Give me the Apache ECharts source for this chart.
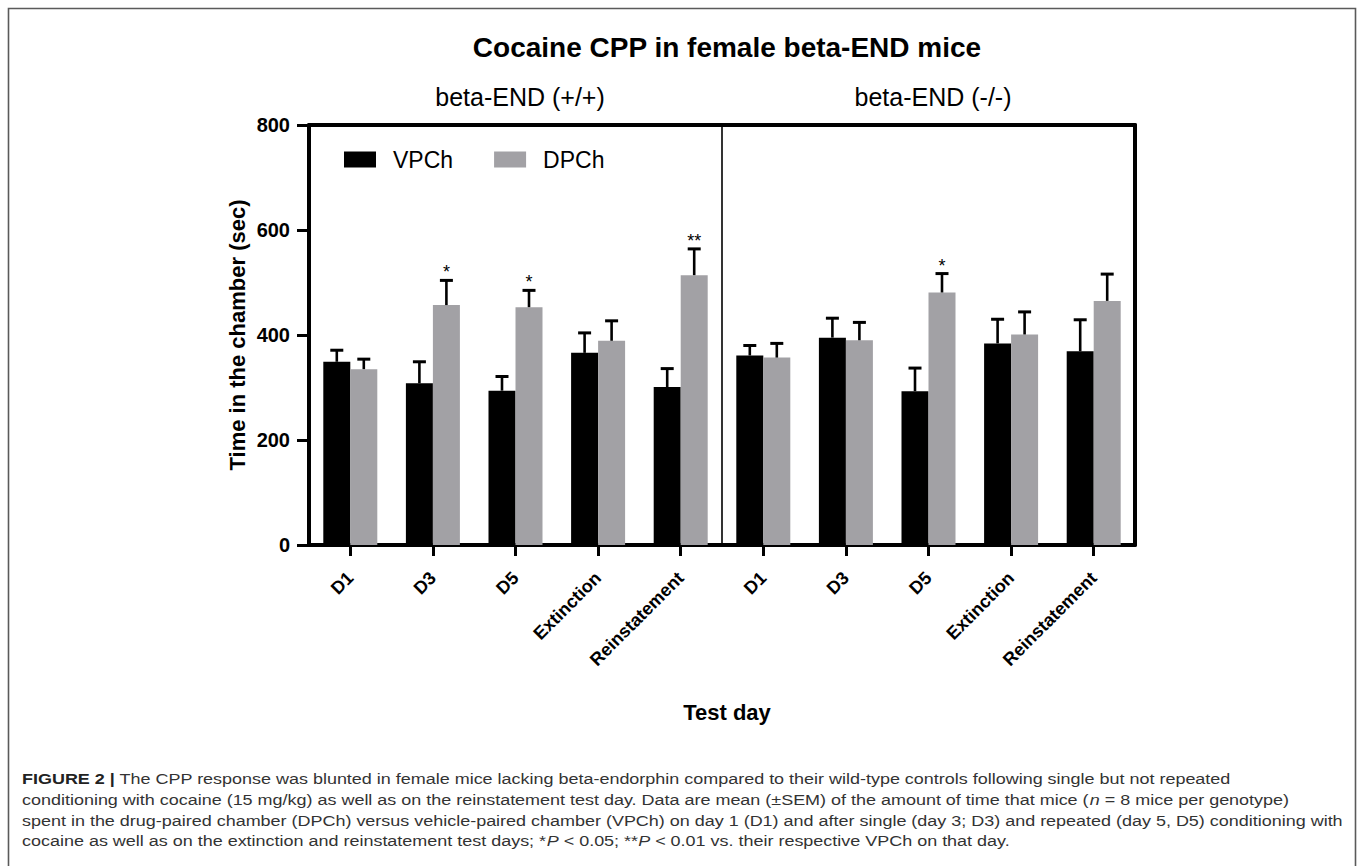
<!DOCTYPE html>
<html>
<head>
<meta charset="utf-8">
<script src="https://cdn.jsdelivr.net/npm/echarts@6/dist/echarts.min.js"></script>
<style>
html,body{margin:0;padding:0;background:#fff;}
#chart{width:1358px;height:866px;}
</style>
</head>
<body>
<div id="chart"></div>
<script>
// ---- data ----
const categories = ['D1', 'D3', 'D5', 'Extinction', 'Reinstatement'];
const yTicks = [0, 200, 400, 600, 800];
// beta-END (+/+)
const wtVPCh = [349, 308, 294, 366, 301];
const wtVPChSEM = [22, 41, 27, 38, 35];
const wtDPCh = [335, 457, 453, 389, 514];
const wtDPChSEM = [19, 47, 32, 38, 50];
const wtSig = ['', '*', '*', '', '**'];
// beta-END (-/-)
const koVPCh = [361, 395, 293, 384, 369];
const koVPChSEM = [19, 37, 44, 46, 60];
const koDPCh = [357, 390, 481, 401, 465];
const koDPChSEM = [27, 34, 36, 43, 51];
const koSig = ['', '', '*', '', ''];

const captionLines = [
  '{b|FIGURE 2 |} The CPP response was blunted in female mice lacking beta-endorphin compared to their wild-type controls following single but not repeated',
  'conditioning with cocaine (15 mg/kg) as well as on the reinstatement test day. Data are mean (±SEM) of the amount of time that mice ({i|n} = 8 mice per genotype)',
  'spent in the drug-paired chamber (DPCh) versus vehicle-paired chamber (VPCh) on day 1 (D1) and after single (day 3; D3) and repeated (day 5, D5) conditioning with',
  'cocaine as well as on the extinction and reinstatement test days; *{i|P} < 0.05; **{i|P} < 0.01 vs. their respective VPCh on that day.'
];

// ---- styling constants ----
const FONT = 'Arial, "Liberation Sans", Helvetica, sans-serif';
const BLACK = '#000000';
const GREY = '#a2a1a5';
const BAR_W = 27;
const GRID_TOP = 125, GRID_H = 420, GRID_W = 413;
const LEFT0 = 309, LEFT1 = 722;

const chart = echarts.init(document.getElementById('chart'), null, {renderer: 'svg'});

function errSeries(means, sems, sig, side, axisIdx) {
  return {
    type: 'custom',
    xAxisIndex: axisIdx, yAxisIndex: axisIdx,
    z: 5,
    silent: true,
    data: means.map((m, i) => [i, m, sems[i]]),
    renderItem: function (params, api) {
      const i = api.value(0), m = api.value(1), e = api.value(2);
      const base = api.coord([i, m]);
      const top = api.coord([i, m + e]);
      const x = base[0] + side * BAR_W / 2;
      const s = sig ? sig[params.dataIndex] : '';
      const children = [
        {type: 'line', shape: {x1: x, y1: base[1], x2: x, y2: top[1]}, style: {stroke: BLACK, lineWidth: 2.6}},
        {type: 'line', shape: {x1: x - 6.5, y1: top[1], x2: x + 6.5, y2: top[1]}, style: {stroke: BLACK, lineWidth: 3}}
      ];
      if (s) {
        children.push({type: 'text', style: {text: s, x: x, y: top[1] + 1, align: 'center', verticalAlign: 'bottom', font: '18px ' + FONT, fill: BLACK}});
      }
      return {type: 'group', children: children};
    }
  };
}

const thick = {show: true, onZero: false, lineStyle: {color: BLACK, width: 4}};
const xLabel = {rotate: 45, margin: 30, fontFamily: FONT, fontSize: 18, fontWeight: 'bold', color: '#000', interval: 0};
const xTick = {show: true, alignWithLabel: true, length: 11, lineStyle: {width: 3, color: BLACK}};

const option = {
  backgroundColor: '#ffffff',
  animation: false,
  title: [
    {text: 'Cocaine CPP in female beta-END mice', left: 722, top: 28, textAlign: 'center',
      textStyle: {fontFamily: FONT, fontSize: 28, fontWeight: 'bold', color: '#000'}},
    {text: 'beta-END (+/+)', left: 515, top: 79, textAlign: 'center',
      textStyle: {fontFamily: FONT, fontSize: 25, fontWeight: 'normal', color: '#000'}},
    {text: 'beta-END (-/-)', left: 928, top: 79, textAlign: 'center',
      textStyle: {fontFamily: FONT, fontSize: 25, fontWeight: 'normal', color: '#000'}},
    {text: 'Test day', left: 722, top: 696, textAlign: 'center',
      textStyle: {fontFamily: FONT, fontSize: 22, fontWeight: 'bold', color: '#000'}}
  ],
  legend: {
    left: 344, top: 148, padding: 0,
    itemWidth: 32, itemHeight: 16, itemGap: 41,
    icon: 'rect',
    data: ['VPCh', 'DPCh'],
    textStyle: {fontFamily: FONT, fontSize: 23, color: '#000', padding: [0, 0, 0, 12]}
  },
  grid: [
    {left: LEFT0, top: GRID_TOP, width: GRID_W, height: GRID_H},
    {left: LEFT1, top: GRID_TOP, width: GRID_W, height: GRID_H}
  ],
  xAxis: [
    {type: 'category', gridIndex: 0, data: categories, position: 'bottom', axisLine: thick, axisTick: xTick, axisLabel: xLabel},
    {type: 'category', gridIndex: 1, data: categories, position: 'bottom', axisLine: thick, axisTick: xTick, axisLabel: xLabel},
    {type: 'category', gridIndex: 0, data: categories, position: 'top', axisLine: thick, axisTick: {show: false}, axisLabel: {show: false}},
    {type: 'category', gridIndex: 1, data: categories, position: 'top', axisLine: thick, axisTick: {show: false}, axisLabel: {show: false}}
  ],
  yAxis: [
    {type: 'value', gridIndex: 0, min: yTicks[0], max: yTicks[yTicks.length - 1], interval: 200,
      name: 'Time in the chamber (sec)', nameLocation: 'middle', nameGap: 61,
      nameTextStyle: {fontFamily: FONT, fontSize: 22, fontWeight: 'bold', color: '#000'},
      axisLine: thick, axisTick: {show: true, length: 12, lineStyle: {width: 3, color: BLACK}},
      axisLabel: {margin: 19, fontFamily: FONT, fontSize: 20, fontWeight: 'bold', color: '#000'},
      splitLine: {show: false}},
    {type: 'value', gridIndex: 1, min: yTicks[0], max: yTicks[yTicks.length - 1], interval: 200, position: 'left',
      axisLine: {show: true, onZero: false, lineStyle: {color: BLACK, width: 1.6}},
      axisTick: {show: false}, axisLabel: {show: false}, splitLine: {show: false}},
    {type: 'value', gridIndex: 1, min: yTicks[0], max: yTicks[yTicks.length - 1], interval: 200, position: 'right',
      axisLine: thick, axisTick: {show: false}, axisLabel: {show: false}, splitLine: {show: false}}
  ],
  series: [
    {name: 'VPCh', type: 'bar', xAxisIndex: 0, yAxisIndex: 0, data: wtVPCh, barWidth: BAR_W, barGap: '0%', itemStyle: {color: BLACK}},
    {name: 'DPCh', type: 'bar', xAxisIndex: 0, yAxisIndex: 0, data: wtDPCh, barWidth: BAR_W, barGap: '0%', itemStyle: {color: GREY}},
    {name: 'VPCh', type: 'bar', xAxisIndex: 1, yAxisIndex: 1, data: koVPCh, barWidth: BAR_W, barGap: '0%', itemStyle: {color: BLACK}},
    {name: 'DPCh', type: 'bar', xAxisIndex: 1, yAxisIndex: 1, data: koDPCh, barWidth: BAR_W, barGap: '0%', itemStyle: {color: GREY}},
    errSeries(wtVPCh, wtVPChSEM, null, -1, 0),
    errSeries(wtDPCh, wtDPChSEM, wtSig, 1, 0),
    errSeries(koVPCh, koVPChSEM, null, -1, 1),
    errSeries(koDPCh, koDPChSEM, koSig, 1, 1)
  ],
  graphic: [
    {type: 'polyline', silent: true, shape: {points: [[8.5, 866], [8.5, 8.5], [1355.5, 8.5], [1355.5, 866]]},
      style: {stroke: '#5a5a5a', lineWidth: 1.6, fill: null}}
  ].concat(captionLines.map((ln, k) => ({
    type: 'text', silent: true, x: 22, y: 779 + k * 20.8,
    scaleX: 1.16, scaleY: 1,
    style: {
      text: ln, x: 0, y: 0, verticalAlign: 'middle', font: '15.5px ' + FONT, fill: '#333',
      rich: {
        b: {fontWeight: 'bold', fontSize: 15.5, fontFamily: FONT, fill: '#222'},
        i: {fontStyle: 'italic', fontSize: 15.5, fontFamily: FONT, fill: '#333'}
      }
    }
  })))
};
chart.setOption(option);
</script>
</body>
</html>
